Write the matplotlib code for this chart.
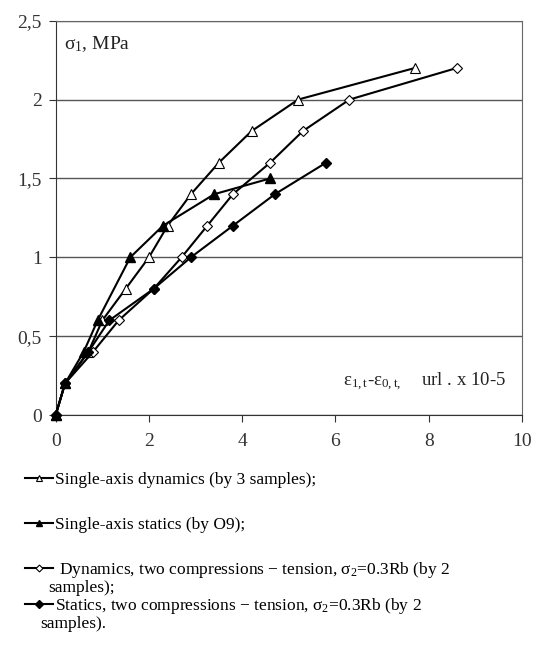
import matplotlib
matplotlib.use("Agg")
import matplotlib.pyplot as plt
from matplotlib.lines import Line2D

plt.rcParams["font.family"] = ["Liberation Serif", "DejaVu Serif"]
plt.rcParams["mathtext.fontset"] = "custom"
plt.rcParams["mathtext.rm"] = "Liberation Serif"
plt.rcParams["mathtext.it"] = "Liberation Serif"

# Data (strain x 10^-5, stress MPa)
dyn1_x = [0, 0.2, 0.7, 1.0, 1.5, 2.0, 2.4, 2.9, 3.5, 4.2, 5.2, 7.7]
dyn1_y = [0, 0.2, 0.4, 0.6, 0.8, 1.0, 1.2, 1.4, 1.6, 1.8, 2.0, 2.2]

stat1_x = [0, 0.2, 0.6, 0.9, 1.6, 2.3, 3.4, 4.6]
stat1_y = [0, 0.2, 0.4, 0.6, 1.0, 1.2, 1.4, 1.5]

dyn2_x = [0, 0.2, 0.8, 1.35, 2.1, 2.7, 3.25, 3.8, 4.6, 5.3, 6.3, 8.6]
dyn2_y = [0, 0.2, 0.4, 0.6, 0.8, 1.0, 1.2, 1.4, 1.6, 1.8, 2.0, 2.2]

stat2_x = [0, 0.2, 0.7, 1.15, 2.1, 2.9, 3.8, 4.7, 5.8]
stat2_y = [0, 0.2, 0.4, 0.6, 0.8, 1.0, 1.2, 1.4, 1.6]

x_ticks = [0, 2, 4, 6, 8, 10]
y_ticks = [0, 0.5, 1, 1.5, 2, 2.5]
y_tick_labels = ["0", "0,5", "1", "1,5", "2", "2,5"]

legend_labels = [
    "Single-axis dynamics (by 3 samples);",
    "Single-axis statics (by O9);",
    " Dynamics, two compressions \u2212 tension, \u03c3$_2$=0.3Rb (by 2",
    "Statics, two compressions \u2212 tension, \u03c3$_2$=0.3Rb (by 2",
]

fig = plt.figure(figsize=(5.35, 6.55), dpi=100)
ax = fig.add_axes([55.7 / 535, 240 / 655, (522 - 55.7) / 535, (415 - 20.7) / 655])

lw = 1.5
styles = [
    dict(marker="^", mfc="white", mec="black", ms=7, mew=0.8),
    dict(marker="^", mfc="black", mec="black", ms=7),
    dict(marker="D", mfc="white", mec="black", ms=5, mew=0.8),
    dict(marker="D", mfc="black", mec="black", ms=5.5),
]
series = [(dyn1_x, dyn1_y), (stat1_x, stat1_y), (dyn2_x, dyn2_y), (stat2_x, stat2_y)]
for (xs, ys), st in zip(series, styles):
    ax.plot(xs, ys, color="black", lw=lw, zorder=3, clip_on=False, **st)

ax.set_xlim(0, 10)
ax.set_ylim(0, 2.5)
ax.set_xticks(x_ticks)
ax.set_yticks(y_ticks)
ax.set_yticklabels(y_tick_labels)
ax.tick_params(axis="both", direction="out", length=5, labelsize=14,
               colors="#333333", pad=5)
ax.tick_params(axis="x", pad=8)
ax.grid(axis="y", color="#555555", lw=1.0)
ax.set_axisbelow(True)
for side in ["top", "right"]:
    ax.spines[side].set_color("#666666")
for side in ["left", "bottom"]:
    ax.spines[side].set_color("#333333")

ax.text(0.017, 0.965, "\u03c3$_1$, MPa", transform=ax.transAxes,
        fontsize=14, va="top", ha="left", color="#222222")
ax.text(0.965, 0.055, "\u03b5$_{1,t}$-\u03b5$_{0,t,}$    url . x 10-5",
        transform=ax.transAxes, fontsize=13.5, va="bottom", ha="right",
        color="#222222")

# legend below the plot, one entry per block
legend_y = [1 - 480 / 655, 1 - 525 / 655, 1 - 570 / 655, 1 - 606 / 655]
for lab, st, yy in zip(legend_labels, styles, legend_y):
    h = Line2D([], [], color="black", lw=lw, **st)
    fig.legend([h], [lab], loc="center left", bbox_to_anchor=(25 / 535, yy),
               frameon=False, fontsize=12.5, handlelength=1.6, handletextpad=0.1,
               borderpad=0, borderaxespad=0, markerscale=0.7)
fig.text(48 / 535, 1 - 588 / 655, "samples);", fontsize=12.5, va="center")
fig.text(40 / 535, 1 - 624 / 655, "samples).", fontsize=12.5, va="center")

fig.savefig("out.png", dpi=100)
